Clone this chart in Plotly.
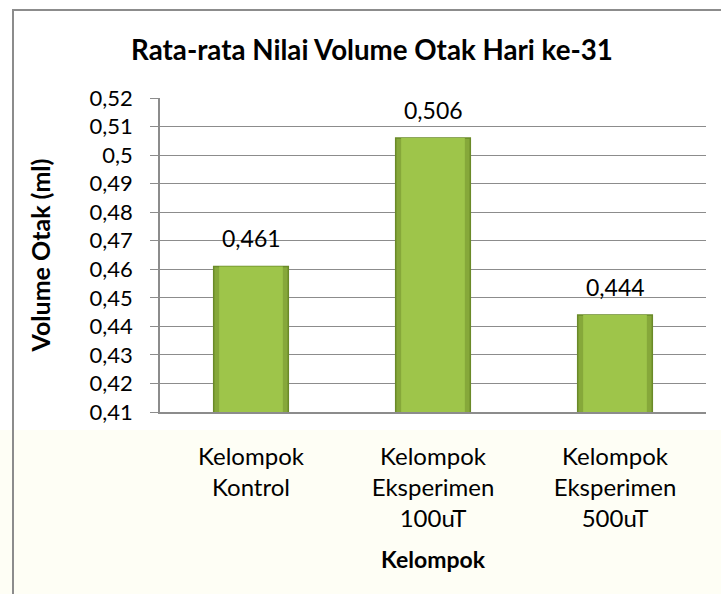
import plotly.graph_objects as go

categories = ["Kelompok<br>Kontrol", "Kelompok<br>Eksperimen<br>100uT", "Kelompok<br>Eksperimen<br>500uT"]
values = [0.461, 0.506, 0.444]
value_labels = ["0,461", "0,506", "0,444"]
y_ticks = [0.41, 0.42, 0.43, 0.44, 0.45, 0.46, 0.47, 0.48, 0.49, 0.50, 0.51, 0.52]
y_tick_labels = ["0,41", "0,42", "0,43", "0,44", "0,45", "0,46", "0,47", "0,48", "0,49", "0,5", "0,51", "0,52"]

W, H = 721, 594
L, R, T, B = 160, 15, 98, 182
pw, ph = W - L - R, H - T - B

def px_x(x):
    return (x - L) / pw

def px_y(y):
    return (H - B - y) / ph

FONT = "Lato"

fig = go.Figure()
fig.add_trace(go.Bar(
    x=categories, y=values, width=0.41,
    marker=dict(color="#86a83a", line=dict(color="#6a8a28", width=1.5)),
    hoverinfo="skip", showlegend=False,
))
fig.add_trace(go.Bar(
    x=categories, y=values, width=0.35,
    marker=dict(color="#9ec54a", line=dict(width=0)),
    hoverinfo="skip", showlegend=False,
))

for c, v, t in zip(categories, values, value_labels):
    fig.add_annotation(x=c, y=v, text=t, showarrow=False, yanchor="bottom",
                       yshift=12, font=dict(family=FONT, size=23, color="#000000"))

shapes = [
    dict(type="rect", xref="paper", yref="paper", x0=px_x(-5), x1=px_x(W + 5),
         y0=px_y(H + 5), y1=px_y(430), fillcolor="#fefef5", line=dict(width=0), layer="below"),
    dict(type="rect", xref="paper", yref="paper", x0=px_x(13), x1=px_x(W + 20),
         y0=px_y(H + 20), y1=px_y(10), fillcolor="rgba(0,0,0,0)",
         line=dict(color="#8c8c8c", width=2), layer="below"),
]

fig.update_layout(
    width=W, height=H,
    margin=dict(l=L, r=R, t=T, b=B, autoexpand=False),
    paper_bgcolor="white", plot_bgcolor="rgba(0,0,0,0)",
    barmode="overlay",
    shapes=shapes,
    title=dict(text="<b>Rata-rata Nilai Volume Otak Hari ke-31</b>", x=372 / W,
               xanchor="center", y=1 - 50 / H, yanchor="middle",
               font=dict(family=FONT, size=27.7, color="#000000")),
    font=dict(family=FONT, color="#000000"),
)
fig.update_xaxes(
    automargin=False,
    showline=True, linecolor="#8c8c8c", linewidth=1.5, showgrid=False,
    ticks="", tickfont=dict(family=FONT, size=24), ticklabelstandoff=22,
    title=dict(text="<b>Kelompok</b>", font=dict(family=FONT, size=23), standoff=21),
)
fig.update_yaxes(
    automargin=False,
    range=[0.41, 0.52], tickvals=y_ticks, ticktext=y_tick_labels,
    showline=True, linecolor="#8c8c8c", linewidth=1.5,
    showgrid=True, gridcolor="#8c8c8c", gridwidth=1.2,
    ticks="outside", ticklen=8, tickcolor="#8c8c8c",
    tickfont=dict(family=FONT, size=22), ticklabelstandoff=13,
    title=dict(text="<b>Volume Otak (ml)</b>", font=dict(family=FONT, size=25), standoff=32),
    zeroline=False,
)

fig.write_html("out.html", config={"displayModeBar": False},
               post_script="document.body.style.margin='0';")
